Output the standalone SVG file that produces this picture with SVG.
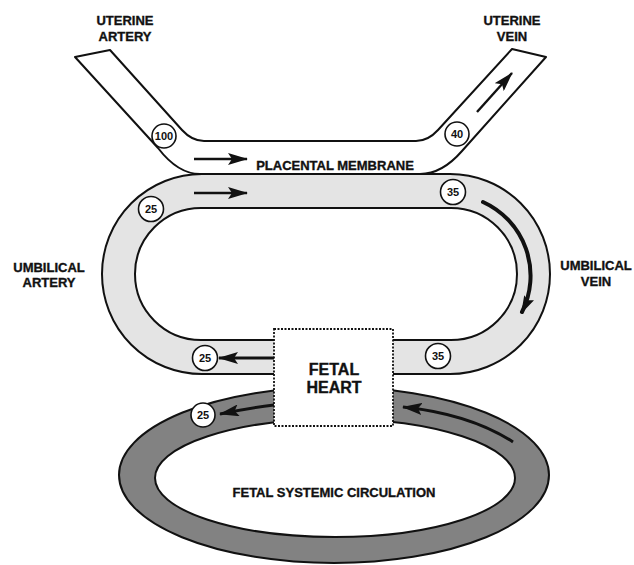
<svg xmlns="http://www.w3.org/2000/svg" width="634" height="565" viewBox="0 0 634 565">
<style>
.lbl{font-family:"Liberation Sans",Arial,sans-serif;font-weight:bold;font-size:13px;fill:#111;stroke:#111;stroke-width:0.35;text-anchor:middle}
.big{font-size:16px}
.num{font-family:"Liberation Sans",Arial,sans-serif;font-weight:bold;font-size:11px;fill:#111;text-anchor:middle}
.ring{fill:#fff;stroke:#111;stroke-width:1.6}
.edge{stroke:#111;stroke-width:2;stroke-linejoin:round}
.flow{fill:none;stroke:#111;stroke-width:2.4;marker-end:url(#ah)}
.flow-thick{fill:none;stroke:#111;stroke-width:4;stroke-linecap:round;marker-end:url(#ah2)}
.flow-mid{fill:none;stroke:#111;stroke-width:3;marker-end:url(#ah)}
</style>
<defs>
<marker id="ah" markerUnits="userSpaceOnUse" markerWidth="20" markerHeight="12" refX="19" refY="6" orient="auto">
<path d="M0,0 L20,6 L0,12 L4,6 Z" fill="#111"/>
</marker>
<marker id="ah2" markerUnits="userSpaceOnUse" markerWidth="18" markerHeight="12" refX="16" refY="6" orient="auto">
<path d="M0,0.5 L18,6 L0,11.5 L3,6 Z" fill="#111"/>
</marker>
</defs>
<rect width="634" height="565" fill="#fff"/>

<g id="fetal-systemic-circulation">
<ellipse cx="334" cy="475" rx="215" ry="88" fill="#828282" class="edge"/>
<ellipse cx="335" cy="478" rx="180" ry="59" fill="#fff" class="edge"/>
<text class="lbl" x="334" y="497">FETAL SYSTEMIC CIRCULATION</text>
</g>

<g id="umbilical-loop">
<rect x="102" y="174" width="448" height="200" rx="100" ry="100" fill="#e4e4e4" class="edge"/>
<rect x="135" y="208" width="382" height="132" rx="66" ry="66" fill="#fff" class="edge"/>
</g>

<g id="placental-tube">
<path d="M75 57 L110 50 L182 130 Q192 141 204 141 L416 141 Q428 141 438 130 L512 49 L546 57 L462 151 Q442 174 420 174 L200 174 Q178 174 158 148 Z" fill="#fff" class="edge"/>
<text class="lbl" x="335" y="170">PLACENTAL MEMBRANE</text>
</g>

<g id="fetal-heart">
<rect x="274" y="329" width="119" height="97" fill="#fff" stroke="#111" stroke-width="1.8" stroke-dasharray="2 1.5"/>
<text class="lbl big" x="334" y="375">FETAL</text>
<text class="lbl big" x="334" y="393">HEART</text>
</g>

<g id="uterine-artery-label">
<text class="lbl" x="125" y="25">UTERINE</text>
<text class="lbl" x="125" y="40.5">ARTERY</text>
</g>
<g id="uterine-vein-label">
<text class="lbl" x="512" y="25">UTERINE</text>
<text class="lbl" x="512" y="40.5">VEIN</text>
</g>
<g id="umbilical-artery-label">
<text class="lbl" x="49" y="272">UMBILICAL</text>
<text class="lbl" x="49" y="287">ARTERY</text>
</g>
<g id="umbilical-vein-label">
<text class="lbl" x="596" y="270">UMBILICAL</text>
<text class="lbl" x="596" y="286">VEIN</text>
</g>

<g id="connectors">
<path class="flow" d="M194 159 L247 159"/>
<path class="flow" d="M477 112 L512 73"/>
<path class="flow" d="M194 193 L247 193"/>
<path class="flow-thick" d="M483 202 A81 81 0 0 1 522 312"/>
<path class="flow-mid" d="M274 358 L219 358"/>
<path class="flow-mid" d="M274 405 Q250 408 220 414"/>
<path class="flow-mid" d="M513 442 Q470 414 403 407"/>
</g>

<g id="values">
<g id="v-ua-100"><circle class="ring" cx="164" cy="136" r="12"/><text class="num" x="164" y="140" font-size="10">100</text></g>
<g id="v-uv-40"><circle class="ring" cx="457" cy="134" r="12"/><text class="num" x="457" y="138">40</text></g>
<g id="v-umb-a-25"><circle class="ring" cx="151" cy="209" r="12.5"/><text class="num" x="151" y="213">25</text></g>
<g id="v-umb-v-35"><circle class="ring" cx="453" cy="192" r="12.5"/><text class="num" x="453" y="196">35</text></g>
<g id="v-umb-a2-25"><circle class="ring" cx="205" cy="358" r="12.5"/><text class="num" x="205" y="362">25</text></g>
<g id="v-umb-v2-35"><circle class="ring" cx="438" cy="356" r="12.5"/><text class="num" x="438" y="360">35</text></g>
<g id="v-sys-25"><circle class="ring" cx="203" cy="415" r="12"/><text class="num" x="203" y="419">25</text></g>
</g>
</svg>
